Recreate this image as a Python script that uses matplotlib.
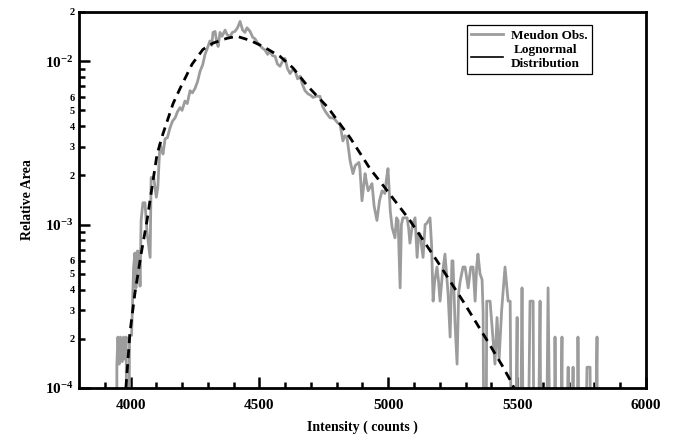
import numpy as np
import matplotlib
matplotlib.use("Agg")
import matplotlib.pyplot as plt
from matplotlib.lines import Line2D

# observed histogram (Meudon), counts vs relative area; 0 = empty bin
intensity_obs = [3945, 3947, 3951, 3956, 3961, 3968, 3973, 3978, 3983, 3990,
                 3996, 4004, 4012, 4017, 4021, 4027, 4033, 4037, 4041, 4048,
                 4056, 4064, 4070, 4076, 4080, 4090, 4100, 4106, 4114, 4121,
                 4126, 4134, 4143, 4153, 4163, 4173, 4182, 4192, 4200, 4211,
                 4220, 4231, 4240, 4250, 4260, 4270, 4280, 4289, 4298, 4308,
                 4315, 4320, 4328, 4335, 4340, 4347, 4355, 4367, 4375, 4386,
                 4395, 4405, 4415, 4425, 4435, 4444, 4452, 4464, 4474, 4483,
                 4492, 4502, 4512, 4522, 4532, 4541, 4551, 4561, 4570, 4580,
                 4590, 4599, 4609, 4619, 4628, 4638, 4648, 4658, 4667, 4677,
                 4689, 4698, 4708, 4720, 4735, 4745, 4755, 4765, 4774, 4785,
                 4793, 4803, 4813, 4824, 4832, 4840, 4852, 4863, 4872, 4879,
                 4886, 4890, 4898, 4910, 4916, 4922, 4930, 4937, 4945, 4956,
                 4966, 4976, 4987, 4993, 4999, 5008, 5015, 5026, 5032, 5038,
                 5046, 5051, 5057, 5065, 5073, 5079, 5084, 5094, 5104, 5112,
                 5118, 5123, 5135, 5143, 5150, 5162, 5168, 5174, 5180, 5189,
                 5195, 5201, 5210, 5220, 5226, 5232, 5240, 5247, 5251, 5259,
                 5267, 5273, 5279, 5290, 5298, 5310, 5320, 5329, 5337, 5343,
                 5348, 5356, 5364, 5368, 5376, 5382, 5395, 5414, 5422, 5430,
                 5440, 5453, 5465, 5473, 5484, 5500, 5504, 5519, 5531, 5550,
                 5562, 5570, 5589, 5597, 5605, 5620, 5639, 5647, 5659, 5674,
                 5678, 5698, 5704, 5717, 5725, 5736, 5752, 5771, 5783, 5790,
                 5810, 5814]
area_obs = [0, 1.4e-4, 2.05e-4, 1.4e-4, 2.05e-4, 1.45e-4, 2.05e-4, 1.5e-4, 2.05e-4, 0,
            2.1e-4, 2.1e-4, 5.5e-4, 6.7e-4, 4.1e-4, 6.9e-4, 6.8e-4, 4.2e-4, 1.06e-3, 1.36e-3,
            1.36e-3, 9.0e-4, 7.5e-4, 6.3e-4, 1.94e-3, 1.94e-3, 1.47e-3, 1.7e-3, 3.1e-3, 2.9e-3,
            2.7e-3, 3.35e-3, 3.4e-3, 3.9e-3, 4.3e-3, 4.5e-3, 4.9e-3, 5.2e-3, 5.0e-3, 5.7e-3,
            5.5e-3, 6.6e-3, 6.4e-3, 6.8e-3, 7.5e-3, 8.7e-3, 9.5e-3, 1.1e-2, 1.2e-2, 1.33e-2,
            1.25e-2, 1.5e-2, 1.52e-2, 1.3e-2, 1.23e-2, 1.5e-2, 1.42e-2, 1.55e-2, 1.45e-2, 1.42e-2,
            1.5e-2, 1.52e-2, 1.6e-2, 1.75e-2, 1.55e-2, 1.5e-2, 1.6e-2, 1.52e-2, 1.4e-2, 1.37e-2,
            1.3e-2, 1.25e-2, 1.2e-2, 1.17e-2, 1.1e-2, 1.15e-2, 1.08e-2, 1.07e-2, 9.6e-3, 9.3e-3,
            1.0e-2, 1.04e-2, 9.0e-3, 8.4e-3, 8.8e-3, 8.8e-3, 7.8e-3, 8.1e-3, 7.2e-3, 6.6e-3,
            6.3e-3, 6.2e-3, 6.0e-3, 6.1e-3, 6.1e-3, 5.3e-3, 4.95e-3, 4.7e-3, 4.5e-3, 4.5e-3,
            4.4e-3, 4.2e-3, 4.1e-3, 3.25e-3, 3.5e-3, 3.4e-3, 2.45e-3, 2.05e-3, 2.3e-3, 2.35e-3,
            2.4e-3, 2.2e-3, 1.4e-3, 2.05e-3, 1.8e-3, 1.61e-3, 1.7e-3, 1.78e-3, 1.3e-3, 1.06e-3,
            1.4e-3, 1.61e-3, 1.55e-3, 1.9e-3, 2.2e-3, 1.2e-3, 9.6e-4, 8.3e-4, 1.1e-3, 1.06e-3,
            4.1e-4, 1.0e-3, 1.1e-3, 1.1e-3, 1.1e-3, 9.5e-4, 7.7e-4, 1.0e-3, 1.1e-3, 6.3e-4,
            8.8e-4, 8.8e-4, 6.3e-4, 1.0e-3, 1.02e-3, 1.1e-3, 7.5e-4, 3.4e-4, 4.5e-4, 5.5e-4,
            4.5e-4, 3.4e-4, 5.0e-4, 6.6e-4, 5.0e-4, 3.8e-4, 2.05e-4, 6.0e-4, 6.0e-4, 2.5e-4,
            1.4e-4, 3.8e-4, 4.5e-4, 5.5e-4, 5.5e-4, 4.1e-4, 5.5e-4, 5.5e-4, 3.4e-4, 5.5e-4,
            6.6e-4, 5.0e-4, 4.6e-4, 2.9e-4, 0, 3.4e-4, 3.4e-4, 1.4e-4, 2.7e-4, 1.5e-4,
            3.0e-4, 5.5e-4, 3.4e-4, 3.4e-4, 0, 2.7e-4, 0, 4.1e-4, 0, 3.4e-4,
            3.4e-4, 0, 3.4e-4, 0, 0, 4.1e-4, 0, 2.05e-4, 0, 2.05e-4,
            0, 1.34e-4, 0, 1.34e-4, 0, 2.05e-4, 0, 1.34e-4, 1.34e-4, 0,
            2.05e-4, 0]

# lognormal fit
intensity_fit = [3982, 3998, 4017, 4041, 4064, 4083, 4103, 4126, 4165, 4192,
                 4239, 4281, 4320, 4374, 4413, 4464, 4514, 4580, 4630, 4685,
                 4766, 4852, 4929, 4987, 5046, 5084, 5189, 5290, 5383, 5441,
                 5473, 5488]
area_fit = [1.0e-4, 2.2e-4, 3.8e-4, 6.6e-4, 1.06e-3, 1.68e-3, 2.7e-3, 3.6e-3, 5.5e-3, 6.8e-3,
            9.6e-3, 1.18e-2, 1.29e-2, 1.38e-2, 1.42e-2, 1.34e-2, 1.23e-2, 1.07e-2, 9.1e-3, 7.1e-3,
            5.2e-3, 3.4e-3, 2.2e-3, 1.68e-3, 1.27e-3, 1.06e-3, 6.0e-4, 3.4e-4, 1.96e-4, 1.38e-4,
            1.12e-4, 1.0e-4]

major_y = [1e-4, 1e-3, 1e-2]
major_y_labels = [r'$\mathbf{10^{-4}}$', r'$\mathbf{10^{-3}}$', r'$\mathbf{10^{-2}}$']

plt.rcParams['font.family'] = ['Liberation Serif', 'DejaVu Serif']
plt.rcParams['font.weight'] = 'bold'
plt.rcParams['mathtext.fontset'] = 'custom'
plt.rcParams['mathtext.rm'] = 'Liberation Serif:bold'
plt.rcParams['mathtext.bf'] = 'Liberation Serif:bold'

fig = plt.figure(figsize=(6.78, 4.42), dpi=100)
ax = fig.add_axes([0.1165, 0.1222, 0.8363, 0.8507])

ax.plot(intensity_obs, np.clip(area_obs, 1e-6, None), color='#9c9c9c', lw=2.0)
ax.plot(intensity_fit, area_fit, color='black', lw=2.0, ls=(0, (3.2, 2.2)))

ax.set_yscale('log')
ax.set_xlim(3800, 6000)
ax.set_ylim(1e-4, 2e-2)

ax.set_xticks(np.arange(4000, 6001, 500))
ax.set_xticks(np.arange(3900, 6000, 100), minor=True)
ax.set_yticks(major_y, major_y_labels)
minor_y, minor_lab = [], []
for d in (-4, -3, -2):
    for k in range(2, 10):
        v = k * 10.0 ** d
        if v <= 2.01e-2:
            minor_y.append(v)
            minor_lab.append(str(k) if k <= 6 else '')
ax.set_yticks(minor_y, minor_lab, minor=True)

ax.tick_params(which='both', direction='in', top=False, right=False, width=1.8)
ax.tick_params(axis='x', which='major', length=8, labelsize=11, pad=8)
ax.tick_params(axis='x', which='minor', length=4)
ax.tick_params(axis='y', which='major', length=8, labelsize=11, pad=4)
ax.tick_params(axis='y', which='minor', length=4.5, labelsize=7.5, pad=3)
for s in ax.spines.values():
    s.set_linewidth(2.0)

ax.set_xlabel('Intensity ( counts )', fontsize=10, fontweight='bold', labelpad=6)
ax.set_ylabel('Relative Area', fontsize=10, fontweight='bold', labelpad=8)

handles = [Line2D([], [], color='#9c9c9c', lw=2.0),
           Line2D([], [], color='black', lw=1.2)]
leg = ax.legend(handles, ['Meudon Obs.', 'Lognormal\nDistribution'],
                loc='upper left', bbox_to_anchor=(0.672, 0.983), fancybox=False,
                edgecolor='black', framealpha=1, handlelength=2.4,
                handletextpad=0.6, borderpad=0.35, labelspacing=0.15,
                prop={'weight': 'bold', 'size': 9.5})
leg.get_frame().set_linewidth(0.9)
for t in leg.get_texts():
    t.set_multialignment('center')

fig.savefig('out.png', dpi=100)
